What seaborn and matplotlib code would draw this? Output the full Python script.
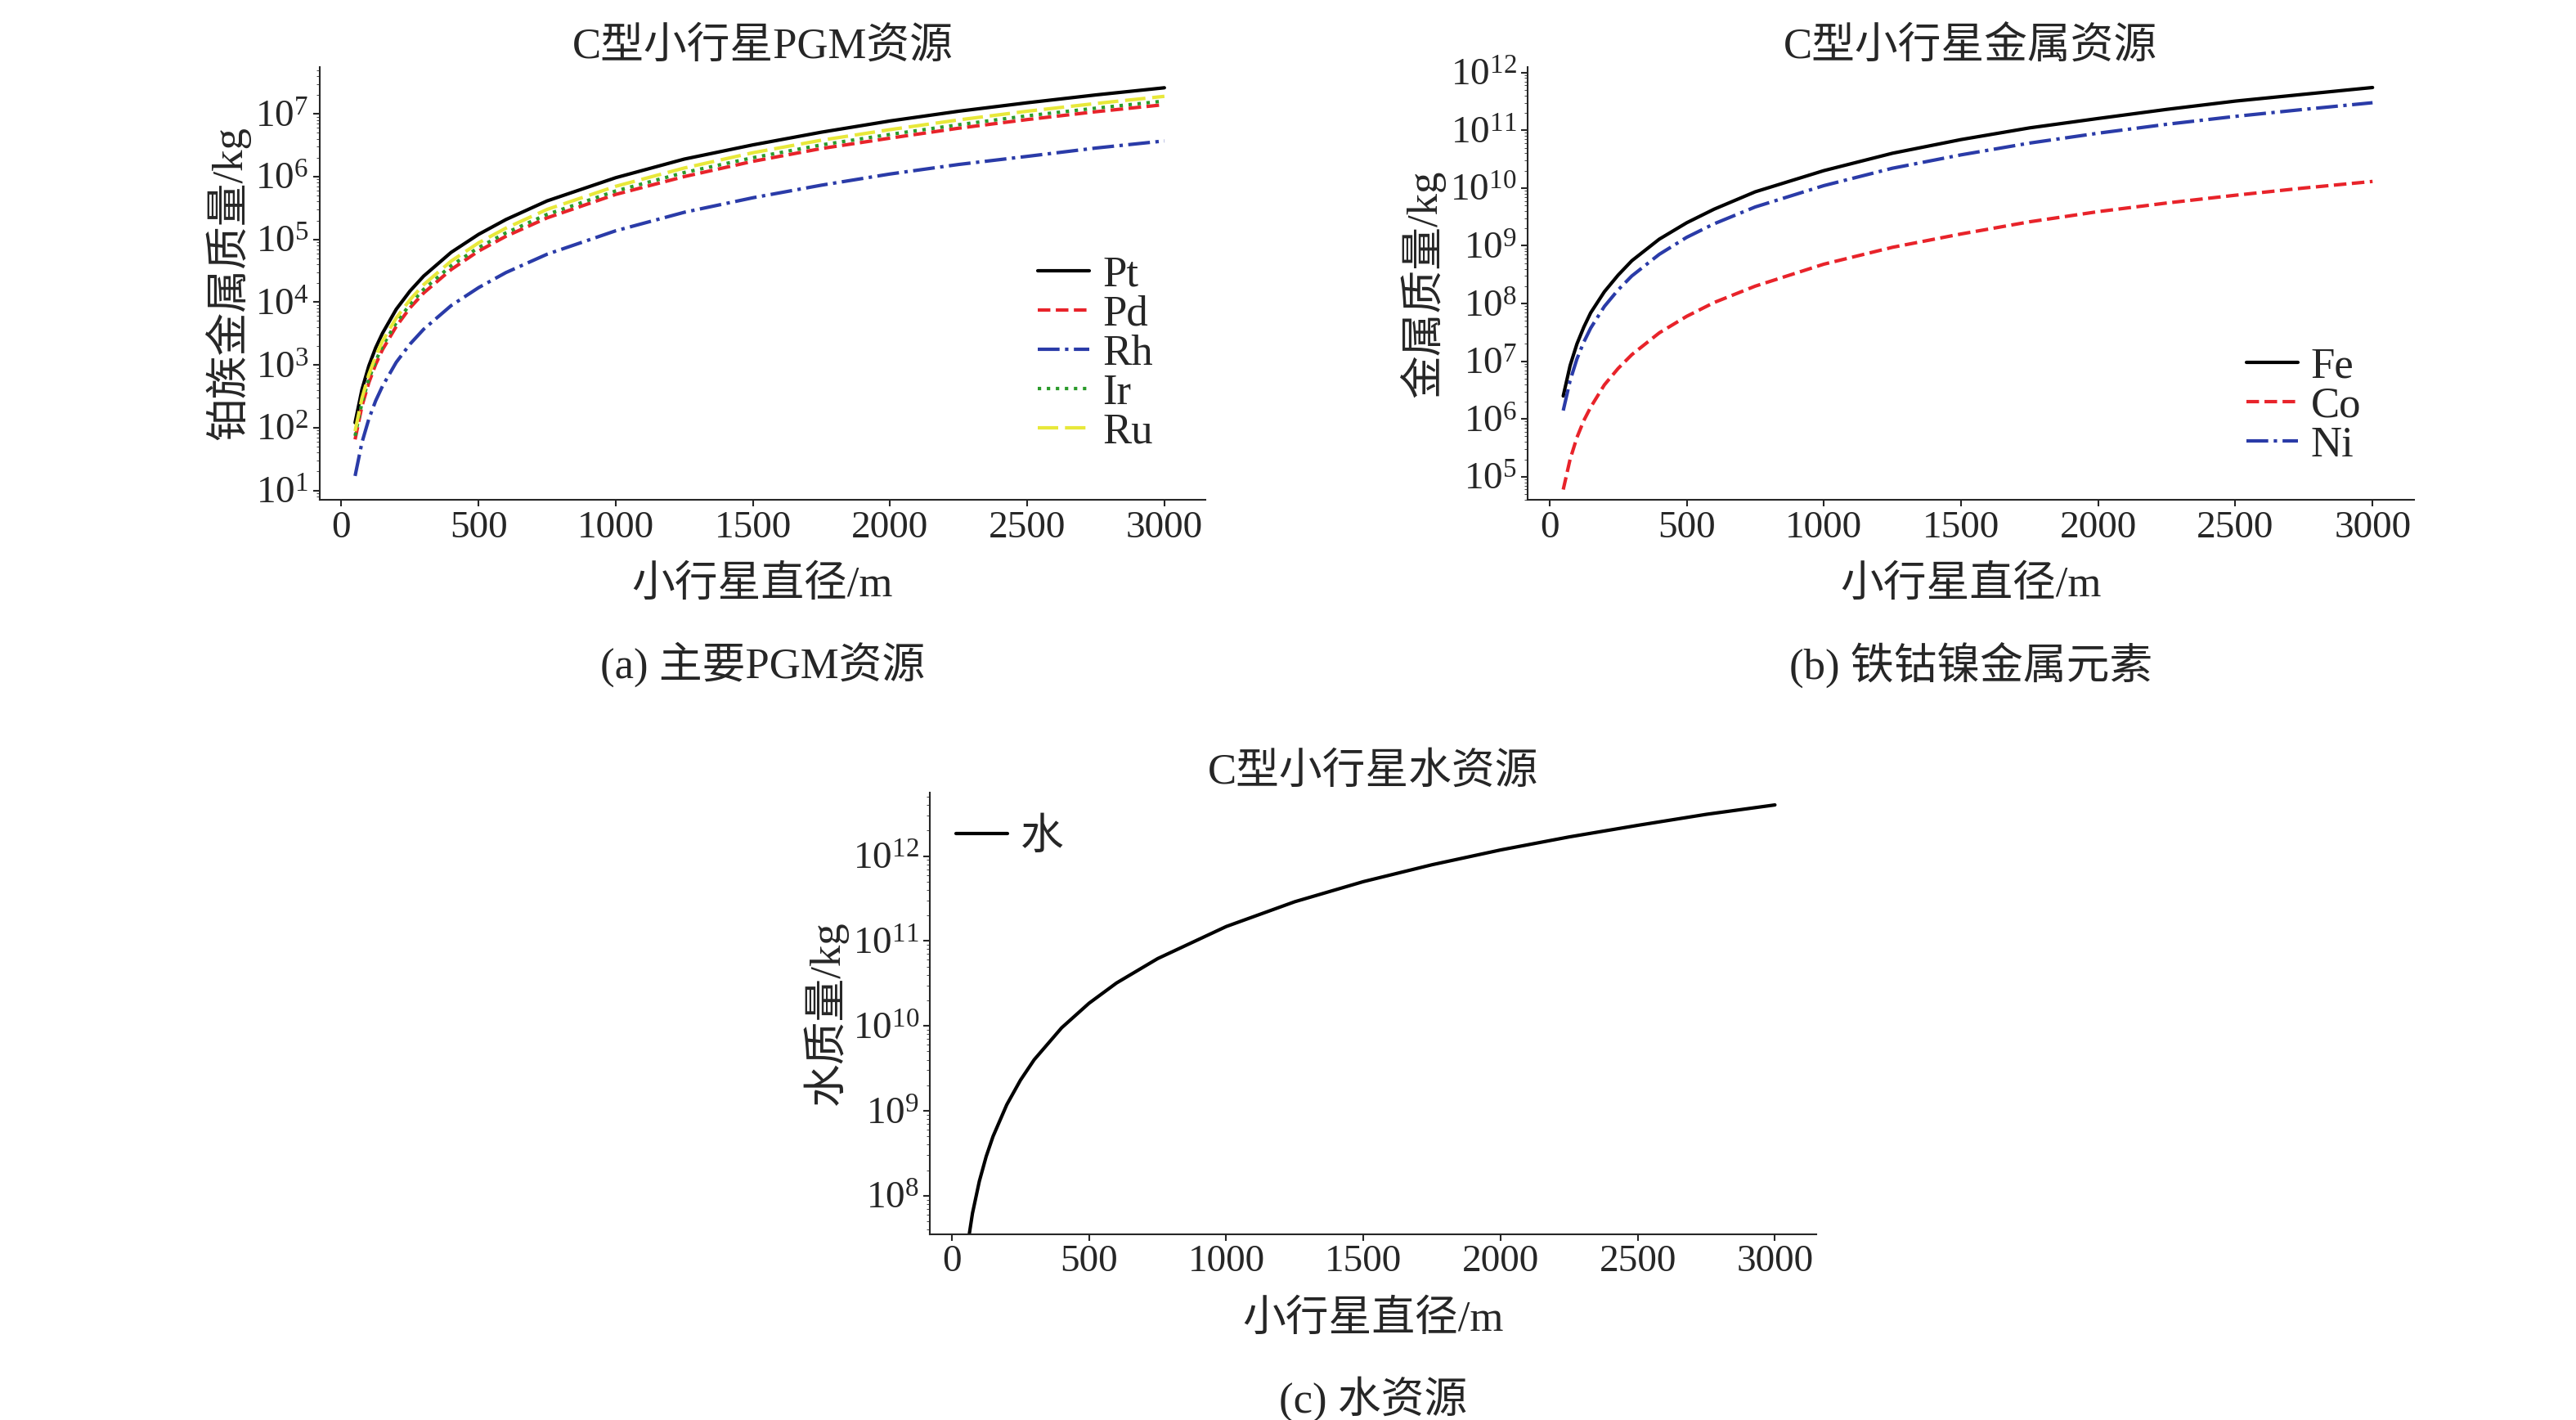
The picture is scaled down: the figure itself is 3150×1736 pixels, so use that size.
import matplotlib
matplotlib.use("Agg")
import matplotlib.pyplot as plt
import matplotlib.ticker as mt
import seaborn as sns

diam = [50, 75, 100, 125, 150, 200, 250, 300, 400, 500, 600, 750, 1000, 1250, 1500, 1750, 2000, 2250, 2500, 2750, 3000]
pt = [1.2e2, 405, 9.6e2, 1.875e3, 3.2e3, 7.7e3, 1.5e4, 2.6e4, 6.2e4, 1.2e5, 2.07e5, 4.1e5, 9.6e5, 1.9e6, 3.2e6, 5.1e6, 7.7e6, 1.1e7, 1.5e7, 2.0e7, 2.6e7]
pd_ = [65, 220, 5.2e2, 1.02e3, 1.75e3, 4.1e3, 8.1e3, 1.4e4, 3.3e4, 6.5e4, 1.12e5, 2.2e5, 5.2e5, 1.0e6, 1.75e6, 2.8e6, 4.1e6, 5.9e6, 8.1e6, 1.08e7, 1.4e7]
rh = [17, 58, 1.37e2, 268, 4.6e2, 1.1e3, 2.14e3, 3.7e3, 8.8e3, 1.7e4, 2.96e4, 5.8e4, 1.37e5, 2.7e5, 4.6e5, 7.3e5, 1.1e6, 1.56e6, 2.1e6, 2.85e6, 3.7e6]
ir = [74, 249, 5.9e2, 1.15e3, 2.0e3, 4.7e3, 9.2e3, 1.6e4, 3.8e4, 7.4e4, 1.27e5, 2.5e5, 5.9e5, 1.16e6, 2.0e6, 3.2e6, 4.7e6, 6.7e6, 9.3e6, 1.23e7, 1.6e7]
ru = [88, 295, 7.0e2, 1.37e3, 2.4e3, 5.6e3, 1.09e4, 1.9e4, 4.5e4, 8.8e4, 1.51e5, 3.0e5, 7.0e5, 1.37e6, 2.4e6, 3.8e6, 5.6e6, 8.0e6, 1.1e7, 1.46e7, 1.9e7]
fe = [2.5e6, 8.4e6, 2.0e7, 3.9e7, 6.9e7, 1.6e8, 3.1e8, 5.5e8, 1.3e9, 2.5e9, 4.3e9, 8.6e9, 2.0e10, 4.0e10, 6.9e10, 1.1e11, 1.6e11, 2.3e11, 3.2e11, 4.2e11, 5.5e11]
co = [6.0e4, 2.0e5, 4.8e5, 9.4e5, 1.6e6, 3.9e6, 7.5e6, 1.3e7, 3.1e7, 6.0e7, 1.04e8, 2.0e8, 4.8e8, 9.4e8, 1.6e9, 2.6e9, 3.9e9, 5.5e9, 7.5e9, 1.0e10, 1.3e10]
ni = [1.4e6, 4.6e6, 1.1e7, 2.15e7, 3.75e7, 8.9e7, 1.72e8, 3.0e8, 7.1e8, 1.4e9, 2.4e9, 4.7e9, 1.1e10, 2.2e10, 3.75e10, 6.0e10, 8.9e10, 1.27e11, 1.74e11, 2.3e11, 3.0e11]
water = [1.85e7, 6.2e7, 1.48e8, 2.9e8, 5.0e8, 1.18e9, 2.3e9, 4.0e9, 9.5e9, 1.85e10, 3.2e10, 6.2e10, 1.48e11, 2.9e11, 5.0e11, 7.9e11, 1.18e12, 1.68e12, 2.3e12, 3.1e12, 4.0e12]

xticks = [0, 500, 1000, 1500, 2000, 2500, 3000]

sns.set_style("ticks")
plt.rcParams['font.family'] = ['Liberation Serif', 'Noto Sans CJK SC']
plt.rcParams['axes.unicode_minus'] = False
FS = 34

fig = plt.figure(figsize=(31.5, 17.36), dpi=100)
axa = fig.add_axes([0.124, 0.648, 0.344, 0.305])
axb = fig.add_axes([0.593, 0.648, 0.344, 0.305])
axc = fig.add_axes([0.361, 0.131, 0.344, 0.311])

def draw(ax, series, ylim, yl, title, cap, loc, anchor):
    for name, vals, col, ls in series:
        sns.lineplot(x=diam, y=vals, ax=ax, color=col, linestyle=ls, lw=3, label=name)
    ax.set_yscale('log')
    ax.set_ylim(*ylim)
    ax.yaxis.set_major_locator(mt.LogLocator(base=10, numticks=30))
    ax.yaxis.set_minor_locator(mt.LogLocator(base=10, subs=range(2, 10), numticks=30))
    ax.yaxis.set_minor_formatter(mt.NullFormatter())
    ax.set_xlim(-80, 3150)
    ax.set_xticks(xticks)
    ax.tick_params(labelsize=FS, direction='out', length=6, width=1.5)
    ax.tick_params(which='minor', length=3)
    for s in ['top', 'right']:
        ax.spines[s].set_visible(False)
    for s in ['left', 'bottom']:
        ax.spines[s].set_linewidth(1.5)
    ax.set_xlabel('小行星直径/m', fontsize=FS + 4, labelpad=18)
    ax.set_ylabel(yl, fontsize=FS + 4, labelpad=4)
    ax.set_title(title, fontsize=FS + 4, pad=6)
    pos = ax.get_position()
    fig.text((pos.x0 + pos.x1) / 2, pos.y0 - 0.10, cap, ha='center', va='top', fontsize=FS + 4)
    ax.legend(loc=loc, bbox_to_anchor=anchor, frameon=False, fontsize=FS + 4,
              handlelength=1.2, handletextpad=0.3, labelspacing=0.0, borderpad=0.1)

draw(axa, [('Pt', pt, 'black', '-'), ('Pd', pd_, '#e8232a', '--'), ('Rh', rh, '#2a3ba8', '-.'),
           ('Ir', ir, '#2a9a2a', ':'), ('Ru', ru, '#e8e83a', (0, (6, 2)))],
     (10**0.85, 10**7.75), '铂族金属质量/kg', 'C型小行星PGM资源', '(a) 主要PGM资源',
     'lower right', (0.97, 0.05))
draw(axb, [('Fe', fe, 'black', '-'), ('Co', co, '#e8232a', '--'), ('Ni', ni, '#2a3ba8', '-.')],
     (10**4.6, 10**12.1), '金属质量/kg', 'C型小行星金属资源', '(b) 铁钴镍金属元素',
     'lower right', (0.97, 0.02))
draw(axc, [('水', water, 'black', '-')],
     (10**7.55, 10**12.75), '水质量/kg', 'C型小行星水资源', '(c) 水资源',
     'upper left', (0.0, 1.0))

fig.savefig('out.png', dpi=100)
